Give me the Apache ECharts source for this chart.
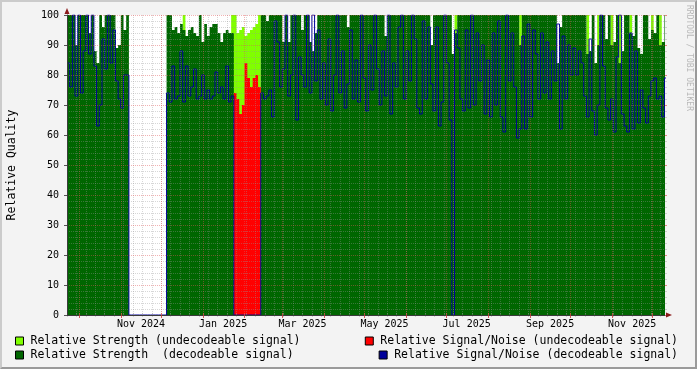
<!DOCTYPE html>
<html>
<head>
<meta charset="utf-8">
<script src="https://cdn.jsdelivr.net/npm/echarts@6/dist/echarts.min.js"></script>
<style>
html,body{margin:0;padding:0;background:#f3f3f3;}
#wrap{position:relative;width:697px;height:369px;}
#chart{width:697px;height:369px;}
#frame{position:absolute;left:0;top:0;width:697px;height:369px;box-sizing:border-box;
  border-top:2px solid #cbcbcb;border-left:2px solid #cbcbcb;border-right:2px solid #9a9a9a;border-bottom:2px solid #9a9a9a;pointer-events:none;}
</style>
</head>
<body>
<div id="wrap"><div id="chart"></div><div id="frame"></div></div>
<script>
const _ = null;

// ---- time frame ----
const axisStart = '2024-09-22T00:00:00Z';
const axisEnd   = '2025-12-10T10:00:00Z';
const firstBin  = '2024-09-22T00:00:00Z';
const binDays   = 2;
const firstSunday = '2024-09-22T00:00:00Z';

const monthStarts = ['2024-10-01','2024-11-01','2024-12-01','2025-01-01','2025-02-01','2025-03-01',
  '2025-04-01','2025-05-01','2025-06-01','2025-07-01','2025-08-01','2025-09-01','2025-10-01','2025-11-01','2025-12-01'];
const monthLabelDates = ['2024-11-16','2025-01-16','2025-03-16','2025-05-16','2025-07-16','2025-09-16','2025-11-16'];
const monthNames = ['Jan','Feb','Mar','Apr','May','Jun','Jul','Aug','Sep','Oct','Nov','Dec'];

// ---- series names ----
const nameStrUndec = 'Relative Strength (undecodeable signal)';
const nameStrDec   = 'Relative Strength  (decodeable signal)';
const nameSnrUndec = 'Relative Signal/Noise (undecodeable signal)';
const nameSnrDec   = 'Relative Signal/Noise (decodeable signal)';

// ---- values, one per 2-day bin ----
const strengthDecodeable = [
/*0*/   100,100,100,90,100,100,100,100,94,100,
/*10*/  88,84,100,96,100,100,100,100,89,90,
/*20*/  100,95,100,_,_,_,_,_,_,_,
/*30*/  _,_,_,_,_,_,_,100,100,95,
/*40*/  96,94,97,95,93,95,96,94,93,100,
/*50*/  91,97,93,96,97,97,94,91,94,95,
/*60*/  94,94,_,_,_,_,_,_,_,_,
/*70*/  _,_,100,100,98,100,100,100,100,100,
/*80*/  91,100,91,100,100,100,100,95,100,100,
/*90*/  91,88,94,100,100,100,100,100,100,100,
/*100*/ 100,100,100,100,96,100,100,100,100,100,
/*110*/ 100,100,100,100,100,100,100,100,93,100,
/*120*/ 100,100,100,100,100,100,100,100,100,100,
/*130*/ 100,100,100,100,100,90,100,100,100,100,
/*140*/ 100,100,100,87,94,100,100,100,100,100,
/*150*/ 100,100,100,100,100,100,100,100,100,100,
/*160*/ 100,100,100,100,100,100,100,100,90,100,
/*170*/ 100,100,100,100,100,100,100,100,100,100,
/*180*/ 100,100,84,96,100,100,100,100,100,100,
/*190*/ 100,100,100,87,88,100,84,90,100,100,
/*200*/ 92,100,90,91,100,84,88,100,100,94,
/*210*/ 93,100,89,87,100,100,92,95,94,100,
/*220*/ 90,91,100
];

// [bin, value] where the undecodeable strength shows
const strengthUndecodeable = [[43,100],[61,100],[62,100],[63,94],[64,95],[65,96],[66,93],[67,94],
  [68,95],[69,96],[70,97],[71,100],[144,100],[168,100],[193,100],[197,100],[202,100],[205,100],
  [209,100],[217,100],[220,100]];

const snrUndecodeableFirstBin = 62;
const snrUndecodeable = [74,72,67,70,84,79,76,79,80,76];

const snrDecodeable = [
/*0*/   84,76,100,73,100,74,88,100,87,100,
/*10*/  83,63,70,92,82,100,84,95,78,72,
/*20*/  69,80,80,0,0,0,0,0,0,0,
/*30*/  0,0,0,0,0,0,0,74,71,83,
/*40*/  72,73,88,71,83,73,76,82,72,73,
/*50*/  80,72,75,72,73,81,74,76,72,83,
/*60*/  71,73,0,0,0,0,0,0,0,0,
/*70*/  0,0,74,72,73,75,66,98,91,76,
/*80*/  82,100,73,80,100,65,86,80,76,100,
/*90*/  74,100,78,95,72,84,70,92,68,80,
/*100*/ 100,74,88,69,77,95,72,85,71,100,
/*110*/ 79,68,90,75,100,82,70,88,73,100,
/*120*/ 67,84,76,96,100,72,88,78,100,92,
/*130*/ 69,67,98,72,96,77,68,96,63,71,
/*140*/ 100,84,65,0,95,89,72,68,95,69,
/*150*/ 100,70,94,78,90,67,85,66,94,70,
/*160*/ 98,66,61,100,78,94,76,59,62,93,
/*170*/ 62,97,66,95,87,72,94,74,91,72,
/*180*/ 88,78,97,62,93,72,90,80,89,80,
/*190*/ 88,84,73,66,92,68,60,70,100,83,
/*200*/ 69,65,72,61,86,100,67,63,61,94,
/*210*/ 62,88,64,75,69,64,73,78,79,72,
/*220*/ 73,66,79
];

// ---- colours ----
const cLight = '#80ff00', cDark = '#006600', cRed = '#ff0000', cNavy = '#000099';

// ---- build ----
const DAY = 86400000;
const tA = Date.parse(axisStart), tB = Date.parse(axisEnd), t0 = Date.parse(firstBin);
const nBins = strengthDecodeable.length;

function toSteps(values) {
  const out = [];
  values.forEach((v, i) => {
    const a = t0 + i * binDays * DAY, b = a + binDays * DAY;
    if (v === null || v === undefined) out.push([a, null]);
    else { out.push([a, v]); out.push([b, v]); }
  });
  return out;
}
function fromPairs(pairs) {
  const arr = new Array(nBins).fill(null);
  pairs.forEach(p => { arr[p[0]] = p[1]; });
  return arr;
}
function fromRun(first, vals) {
  const arr = new Array(nBins).fill(null);
  vals.forEach((v, k) => { arr[first + k] = v; });
  return arr;
}

const monthVals = monthStarts.map(d => Date.parse(d + 'T00:00:00Z'));
const labelVals = monthLabelDates.map(d => Date.parse(d + 'T00:00:00Z'));
const weekVals = [];
for (let t = Date.parse(firstSunday); t <= tB; t += 7 * DAY) weekVals.push(t);

const FONT = 'DejaVu Sans Mono';
const majorGrid = 'rgba(225,85,85,0.45)';
const minorGrid = 'rgba(150,150,150,0.38)';

const chart = echarts.init(document.getElementById('chart'), null, {renderer: 'canvas'});

const legendCommon = {
  orient: 'horizontal', padding: 0, itemWidth: 8, itemHeight: 8, icon: 'rect', selectedMode: false,
  itemStyle: {borderColor: '#000', borderWidth: 1},
  textStyle: {fontFamily: FONT, fontSize: 11.5, color: '#000', padding: [0, 0, 0, 2]}
};

const option = {
  animation: false,
  backgroundColor: '#f3f3f3',
  grid: {left: 67, right: 32, top: 15, bottom: 54, show: true, backgroundColor: '#ffffff', borderWidth: 0,
    containLabel: false, outerBoundsMode: 'none'},
  xAxis: [
    { type: 'value', min: tA, max: tB, position: 'bottom', z: 6,
      axisLine: {show: true, onZero: false, lineStyle: {color: '#3a3a3a', width: 1}},
      axisTick: {show: true, customValues: monthVals, length: 3, lineStyle: {color: 'rgba(200,60,60,0.85)'}},
      axisLabel: {show: true, customValues: labelVals, margin: 4, color: '#000', fontFamily: FONT, fontSize: 10,
        formatter: v => { const d = new Date(v); return monthNames[d.getUTCMonth()] + ' ' + d.getUTCFullYear(); }},
      splitLine: {show: true, lineStyle: {color: majorGrid, type: [1, 1], width: 1}} },
    { type: 'value', min: tA, max: tB, position: 'bottom', z: 5,
      axisLine: {show: false}, axisLabel: {show: false},
      axisTick: {show: true, customValues: weekVals, length: 2, lineStyle: {color: minorGrid}},
      splitLine: {show: true, lineStyle: {color: minorGrid, type: [1, 1], width: 1}} },
    { type: 'value', min: tA, max: tB, position: 'top', z: 6,
      axisLine: {show: false}, axisLabel: {show: false}, splitLine: {show: false},
      axisTick: {show: true, customValues: monthVals, length: 2, lineStyle: {color: 'rgba(225,85,85,0.7)'}} },
    { type: 'value', min: tA, max: tB, position: 'top', z: 5,
      axisLine: {show: false}, axisLabel: {show: false}, splitLine: {show: false},
      axisTick: {show: true, customValues: weekVals, length: 2, lineStyle: {color: minorGrid}} },
    { type: 'value', min: tA, max: tB, position: 'bottom', z: 7,
      axisLine: {show: true, onZero: false, symbol: ['none', 'triangle'], symbolSize: [5, 6], symbolOffset: [0, 4],
        lineStyle: {color: '#8b1a1a', width: 0}},
      axisTick: {show: false}, axisLabel: {show: false}, splitLine: {show: false} }
  ],
  yAxis: [
    { type: 'value', min: 0, max: 100, interval: 10, position: 'left', z: 6,
      name: 'Relative Quality', nameLocation: 'middle', nameGap: 49, nameRotate: 90,
      nameTextStyle: {fontFamily: FONT, fontSize: 11.5, color: '#000'},
      axisLine: {show: true, onZero: false, lineStyle: {color: '#3a3a3a', width: 1}},
      axisTick: {show: true, length: 3, lineStyle: {color: '#555'}},
      axisLabel: {margin: 8, fontFamily: FONT, fontSize: 10, color: '#000'},
      splitLine: {show: true, lineStyle: {color: majorGrid, type: [1, 1], width: 1}},
      minorTick: {show: false, splitNumber: 5},
      minorSplitLine: {show: true, lineStyle: {color: minorGrid, type: [1, 1], width: 1}} },
    { type: 'value', min: 0, max: 100, interval: 10, position: 'right', z: 6,
      axisLine: {show: false}, axisLabel: {show: false}, splitLine: {show: false},
      axisTick: {show: true, length: 2, inside: false, lineStyle: {color: 'rgba(225,85,85,0.7)'}},
      minorTick: {show: true, splitNumber: 5, length: 2, lineStyle: {color: minorGrid}} },
    { type: 'value', min: 0, max: 100, interval: 10, position: 'left', z: 7,
      axisLine: {show: true, onZero: false, symbol: ['none', 'triangle'], symbolSize: [5, 6], symbolOffset: [0, 4],
        lineStyle: {color: '#8b1a1a', width: 0}},
      axisTick: {show: false}, axisLabel: {show: false}, splitLine: {show: false} }
  ],
  legend: [
    Object.assign({}, legendCommon, {left: 15, top: 335, data: [{name: nameStrUndec, itemStyle: {color: cLight}}]}),
    Object.assign({}, legendCommon, {left: 15, top: 349, data: [{name: nameStrDec, itemStyle: {color: cDark}}]}),
    Object.assign({}, legendCommon, {right: 19, top: 335, data: [{name: nameSnrUndec, itemStyle: {color: cRed}}]}),
    Object.assign({}, legendCommon, {right: 19, top: 349, data: [{name: nameSnrDec, itemStyle: {color: cNavy}}]})
  ],
  graphic: [
    { type: 'text', x: 689, y: 5, rotation: -Math.PI / 2, silent: true,
      style: {text: 'RRDTOOL / TOBI OETIKER', fill: '#b8b8b8', fontFamily: FONT, fontSize: 8,
        textAlign: 'left', textVerticalAlign: 'middle'} }
  ],
  series: [
    { name: nameStrUndec, type: 'line', xAxisIndex: 0, yAxisIndex: 0, data: toSteps(fromPairs(strengthUndecodeable)),
      color: cLight, symbol: 'none', silent: true, connectNulls: false,
      lineStyle: {width: 0, color: cLight}, itemStyle: {color: cLight}, areaStyle: {color: cLight, opacity: 1} },
    { name: nameStrDec, type: 'line', xAxisIndex: 0, yAxisIndex: 0, data: toSteps(strengthDecodeable),
      color: cDark, symbol: 'none', silent: true, connectNulls: false,
      lineStyle: {width: 0, color: cDark}, itemStyle: {color: cDark}, areaStyle: {color: cDark, opacity: 1} },
    { name: nameSnrUndec, type: 'line', xAxisIndex: 0, yAxisIndex: 0,
      data: toSteps(fromRun(snrUndecodeableFirstBin, snrUndecodeable)),
      color: cRed, symbol: 'none', silent: true, connectNulls: false,
      lineStyle: {width: 0, color: cRed}, itemStyle: {color: cRed}, areaStyle: {color: cRed, opacity: 1} },
    { name: nameSnrDec, type: 'line', xAxisIndex: 0, yAxisIndex: 0, data: toSteps(snrDecodeable),
      color: cNavy, symbol: 'none', silent: true,
      lineStyle: {width: 1, color: cNavy}, itemStyle: {color: cNavy} }
  ]
};
chart.setOption(option);
</script>
</body>
</html>
